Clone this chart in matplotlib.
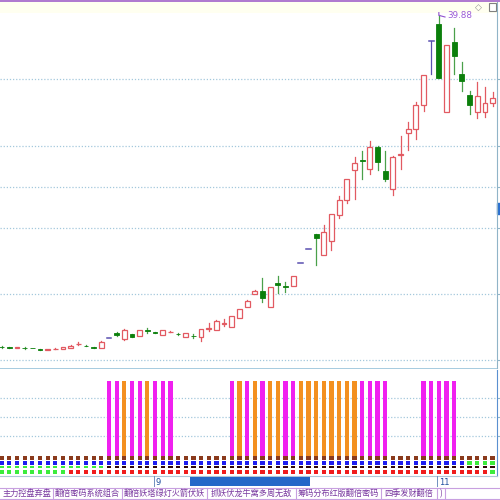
import matplotlib
matplotlib.use('Agg')
import matplotlib.pyplot as plt
from matplotlib.patches import Rectangle

plt.rcParams['font.family'] = ['Noto Sans CJK SC', 'DejaVu Sans']

# daily candles (one per column)
opens = [10.06, 9.99, 9.95, 9.96, 9.97, 9.82, 9.78, 9.84, 9.85, 9.97,
         10.27, 10.16, 10.00, 9.97, 10.84, 11.26, 10.75, 11.20, 11.02, 11.52,
         11.39, 11.14, 11.36, 11.23, 10.96, 11.04, 10.90, 11.68, 11.56, 12.09,
         11.86, 12.67, 13.66, 14.80, 15.10, 13.66, 15.82, 15.56, 15.55, 17.56,
         18.85, 20.20, 18.31, 19.57, 21.91, 23.26, 25.96, 26.90, 26.02, 28.06,
         25.87, 24.22, 27.34, 29.26, 29.62, 31.81, 37.57, 39.07, 31.21, 37.45,
         34.60, 32.71, 31.21, 31.21, 32.02]
highs = [10.08, 10.05, 10.01, 10.00, 9.98, 9.84, 9.84, 9.90, 10.03, 10.18,
         10.48, 10.18, 10.05, 10.57, 10.84, 11.38, 11.65, 11.24, 11.60, 11.77,
         11.42, 11.60, 11.45, 11.25, 11.28, 11.20, 11.66, 12.19, 12.42, 12.52,
         12.86, 13.46, 14.24, 15.14, 16.24, 15.44, 16.42, 15.91, 16.46, 17.56,
         18.85, 20.22, 21.01, 22.04, 23.62, 25.16, 27.10, 27.70, 28.60, 28.10,
         27.70, 27.20, 29.02, 30.31, 32.11, 34.55, 37.57, 39.88, 37.25, 38.77,
         35.65, 33.10, 33.91, 33.40, 33.01]
lows = [9.98, 9.91, 9.94, 9.88, 9.90, 9.76, 9.77, 9.83, 9.84, 9.96,
        10.20, 10.08, 9.92, 9.95, 10.84, 11.02, 10.62, 10.92, 11.00, 11.26,
        11.30, 11.12, 11.34, 11.15, 10.94, 10.84, 10.60, 11.47, 11.54, 11.92,
        11.84, 12.65, 13.64, 14.78, 14.11, 13.62, 14.89, 15.01, 15.53, 17.56,
        18.85, 17.41, 18.28, 18.76, 21.61, 23.02, 23.35, 25.12, 25.60, 25.96,
        24.97, 23.71, 26.02, 27.76, 28.75, 31.30, 34.60, 34.24, 31.18, 34.60,
        33.10, 31.00, 30.61, 30.76, 31.72]
closes = [10.00, 9.97, 9.99, 9.93, 9.91, 9.78, 9.82, 9.89, 10.01, 10.15,
          10.33, 10.10, 9.97, 10.45, 10.84, 11.11, 11.56, 10.96, 11.56, 11.47,
          11.33, 11.56, 11.42, 11.17, 11.26, 11.00, 11.62, 11.75, 12.37, 12.15,
          12.82, 13.42, 14.20, 15.10, 14.41, 15.40, 15.64, 15.47, 16.42, 17.56,
          18.85, 19.87, 20.35, 22.00, 23.26, 25.12, 26.56, 26.81, 28.06, 26.71,
          25.15, 27.16, 27.42, 29.65, 31.81, 34.51, 37.57, 34.27, 37.21, 36.22,
          34.00, 31.81, 32.62, 32.02, 32.47]
grid_levels = [34.15, 28.12, 24.43, 20.74, 14.80, 8.86]

# signal panel: 0 none, 1 magenta, 2 orange
signal = ([0] * 14 + [1, 1, 2, 1, 1, 2, 1, 1, 1] + [0] * 7 +
          [1, 2, 1, 2, 1, 2, 2, 1, 1, 2, 2, 2, 2, 2, 2, 2, 2, 1, 1, 1, 1] +
          [0] * 4 + [1, 1, 1, 1, 1] + [0] * 5)
row1 = 'n' * 65
row2 = 'u' * 61 + 'gggg'
row3 = 'g' * 14 + 'k' * 51
row4 = 'g' * 9 + 'r' * 55 + 'g'

tabs = ['主力控盘弃盘', '翻倍密码系统组合', '翻倍妖塔绿灯火箭伏妖',
        '抓妖伏龙牛窝多周无敌', '筹码分布红版翻倍密码', '四季发财翻倍', ')']
tab_edges = [0, 53, 122, 207, 296, 381, 437, 445]

RED = '#e25a62'
GREEN = '#0b7f0b'
GWICK = '#4aa04a'
FLAT = '#5a50b0'
GRID = '#a4c8dc'
sq_colors = {'n': '#8a3a1c', 'u': '#1c1cf0', 'g': '#3cec3c',
             'k': '#300808', 'r': '#f01c1c'}
bar_colors = {1: '#f020f0', 2: '#f39020'}

fig = plt.figure(figsize=(5, 5), dpi=100)
fig.patch.set_facecolor('white')
fig.add_artist(Rectangle((0, 0.996), 1, 0.004, transform=fig.transFigure,
                         color='#b07ad0', lw=0, zorder=-5))
fig.add_artist(Rectangle((0, 0.974), 0.994, 0.022, transform=fig.transFigure,
                         color='#fffff0', lw=0, zorder=-5))

n = len(opens)
xl = (-0.222, 64.58)

# ---------------- main candle chart
ax = fig.add_axes([0, 0.264, 0.994, 0.732])
ax.set_facecolor('none')
ax.set_xlim(*xl)
ax.set_ylim(8.14, 41.08)
for g in grid_levels:
    ax.axhline(g, color=GRID, lw=0.9, ls=(0, (1, 1.5)), zorder=0)
bw = 0.62
for i in range(n):
    o, h, l, c = opens[i], highs[i], lows[i], closes[i]
    if c > o:
        ax.plot([i, i], [c, h], color=RED, lw=0.9)
        ax.plot([i, i], [l, o], color=RED, lw=0.9)
        ax.add_patch(Rectangle((i - bw / 2, o), bw, c - o, facecolor='white',
                               edgecolor=RED, lw=0.9, zorder=3))
    elif c < o:
        ax.plot([i, i], [l, h], color=GWICK, lw=0.9)
        ax.add_patch(Rectangle((i - bw / 2, c), bw, o - c, facecolor=GREEN,
                               edgecolor=GREEN, lw=0.6, zorder=3))
    else:
        ax.plot([i - bw / 2, i + bw / 2], [c, c], color=FLAT, lw=1.1)
        ax.plot([i, i], [l, h], color=FLAT, lw=0.9)
top = highs.index(max(highs))
ax.plot([top, top, top + 0.8], [max(highs) + 0.25, max(highs), max(highs) - 0.15],
        color='#9050d0', lw=0.8)
ax.text(top + 1.1, max(highs) - 0.05, '%.2f' % max(highs), color='#9a5ad8',
        fontsize=6.3, va='center', ha='left', family='DejaVu Sans')
for s in ['top', 'left', 'bottom']:
    ax.spines[s].set_visible(False)
ax.spines['right'].set_color('#90b4c8')
ax.set_xticks([])
ax.set_yticks(grid_levels)
ax.tick_params(axis='y', left=False, right=True, labelleft=False, length=3,
               color='#90b4c8', direction='out')
ax.add_patch(Rectangle((1.0, 0.42), 0.01, 0.03, transform=ax.transAxes,
                       color='#2a70d0', clip_on=False))
fig.text(0.957, 0.985, '◇', fontsize=6.5, color='#909090', ha='center',
         va='center', family='DejaVu Sans')
fig.add_artist(Rectangle((0.977, 0.978), 0.014, 0.016, transform=fig.transFigure,
                         facecolor='white', edgecolor='#808080', lw=0.8))
fig.add_artist(Rectangle((0, 0.262), 0.994, 0.003, transform=fig.transFigure,
                         color='#a8cce0', lw=0))

# ---------------- signal panel
ax2 = fig.add_axes([0, 0.048, 0.994, 0.212])
ax2.set_xlim(*xl)
ax2.set_ylim(0, 106)
for g in [78, 59, 40]:
    ax2.axhline(g, color=GRID, lw=0.9, ls=(0, (1, 1.5)), zorder=0)
xs = list(range(n))
tall = [i for i in xs if signal[i]]
ax2.bar(tall, [75] * len(tall), bottom=20, width=0.54,
        color=[bar_colors[signal[i]] for i in tall])
for row, (b0, hgt) in zip([row1, row2, row3, row4],
                          [(16.5, 3.5), (11.5, 3.5), (7.7, 2.8), (2, 4)]):
    ax2.bar(xs, [hgt] * n, bottom=b0, width=0.54,
            color=[sq_colors[k] for k in row])
for s in ['top', 'left']:
    ax2.spines[s].set_visible(False)
ax2.spines['bottom'].set_color('#b0c8d8')
ax2.spines['right'].set_color('#5a90d0')
ax2.set_xticks([])
ax2.set_yticks([78, 59, 40])
ax2.tick_params(axis='y', left=False, right=True, labelleft=False, length=3,
                color='#90b4c8')

# ---------------- date row
ax3 = fig.add_axes([0, 0.026, 0.994, 0.022])
ax3.set_xlim(*xl)
ax3.set_ylim(0, 1)
ax3.axis('off')
ax3.add_patch(Rectangle((24.55, 0.05), 15.65, 0.9, color='#2468c8', lw=0))
for col, lab in [(20, '9'), (57, '11')]:
    ax3.plot([col - 0.2, col - 0.2], [0, 1], color='#7090c0', lw=0.7)
    ax3.text(col, 0.45, lab, fontsize=6, color='#2050a0', va='center',
             ha='left', family='DejaVu Sans')

# ---------------- tab row
ax4 = fig.add_axes([0, 0.0, 1, 0.026])
ax4.set_xlim(0, 500)
ax4.set_ylim(0, 13)
ax4.axis('off')
ax4.plot([0, 500], [12.5, 12.5], color='#c8a0e0', lw=0.8)
ax4.plot([0, 500], [1.0, 1.0], color='#c8a0e0', lw=0.8)
for e in tab_edges[1:]:
    ax4.plot([e, e], [1, 12.5], color='#c8a0e0', lw=0.8)
for k, t in enumerate(tabs):
    ax4.text((tab_edges[k] + tab_edges[k + 1]) / 2, 6.8, t, fontsize=5.9,
             color='#7a3aa0', ha='center', va='center')

fig.savefig('out.png', dpi=100)
